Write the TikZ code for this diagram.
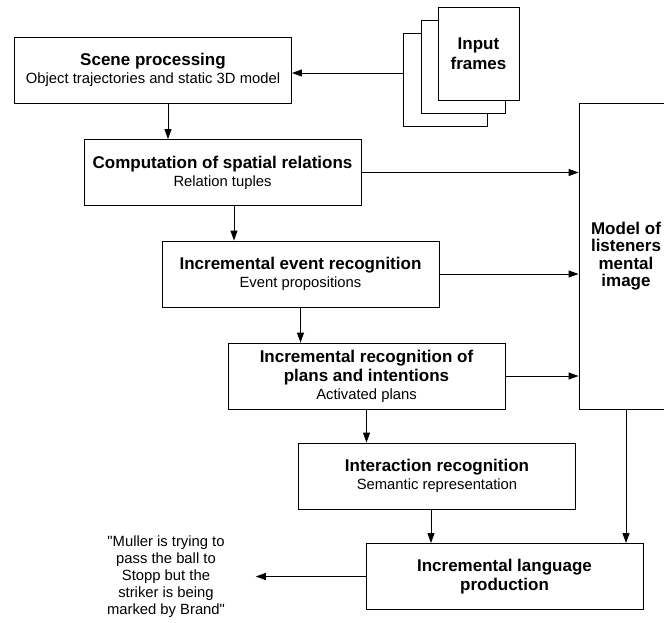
\documentclass[tikz,border=0pt]{standalone}
\usepackage{fontspec}
\setmainfont{Liberation Sans}
\usetikzlibrary{arrows.meta}
\newcommand{\hdfont}{\fontsize{17}{19.5}\selectfont\bfseries}
\newcommand{\subfont}{\fontsize{14.8}{17}\selectfont\mdseries}

\begin{document}
\begin{tikzpicture}[x=1pt, y=-1pt, line width=0.9pt, >={Triangle[length=10pt,width=7pt]},
        stage/.style={draw, minimum width=277pt, minimum height=66pt, align=center, inner sep=2pt, font=\subfont},
        sheet/.style={draw, fill=white, minimum width=84pt, minimum height=93pt}]
    \useasboundingbox (0,0) rectangle (664,622);
    % Define the stack of input frames
    \node[sheet] (back) at (445.5,79.5) {};
    \node[sheet] (middle) at (463,66.5) {};
    \node[sheet, minimum width=81pt, align=center, font=\hdfont] (front) at (478.5,53.5) {Input\\frames};
    % Define the processing stages
    \node[stage] (scene) at (153,70) {\hdfont Scene processing\\[1pt]\subfont Object trajectories and static 3D model};
    \node[stage] (spatial) at (222.5,172.5) {\hdfont Computation of spatial relations\\[1pt]\subfont Relation tuples};
    \node[stage] (event) at (300.5,274) {\hdfont Incremental event recognition\\[1pt]\subfont Event propositions};
    \node[stage] (plans) at (366.5,376) {\hdfont Incremental recognition of\\[2pt]\hdfont plans and intentions\\[1pt]\subfont Activated plans};
    \node[stage] (interact) at (437,476) {\hdfont Interaction recognition\\[1pt]\subfont Semantic representation};
    \node[stage, font=\hdfont] (lang) at (504.5,576.5) {Incremental language\\production};
    \node[draw, minimum width=94pt, minimum height=306pt, align=center, font=\fontsize{17}{17.3}\selectfont\bfseries] (model) at (626,256) {Model of\\listeners\\mental\\image};
    \node[align=center, font=\subfont] (quote) at (166,576.5) {\textquotedbl Muller is trying to\\pass the ball to\\Stopp but the\\striker is being\\marked by Brand\textquotedbl};
    % Connect the stages
    \draw[->] ([yshift=6.5pt]back.west) -- ([yshift=6.5pt]back.west -| scene.east);
    \draw[->] ([xshift=15pt]scene.south) -- ([xshift=15pt]scene.south |- spatial.north);
    \draw[->] ([xshift=11.5pt]spatial.south) -- ([xshift=11.5pt]spatial.south |- event.north);
    \draw[->] (event.south) -- (event.south |- plans.north);
    \draw[->] (plans.south) -- (plans.south |- interact.north);
    \draw[->] ([xshift=-6pt]interact.south) -- ([xshift=-6pt]interact.south |- lang.north);
    \draw[->] (spatial.east) -- (spatial.east -| model.west);
    \draw[->] (event.east) -- (event.east -| model.west);
    \draw[->] (plans.east) -- (plans.east -| model.west);
    \draw[->] (model.south) -- (model.south |- lang.north);
    \draw[->] (lang.west) -- ([xshift=27pt]quote.east |- lang.west);
\end{tikzpicture}
\end{document}
